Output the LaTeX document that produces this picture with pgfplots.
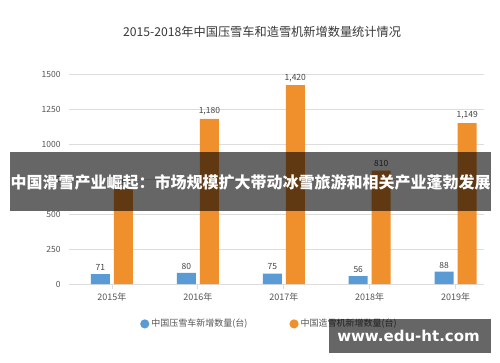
\documentclass[border=0pt]{standalone}
\usepackage{pgfplots}
\pgfplotsset{compat=1.18}
\usepackage{fontspec}
\setmainfont{Noto Sans CJK SC}
\newfontfamily\wmfont{DejaVu Sans}
\definecolor{cblue}{HTML}{5B9BD5}
\definecolor{corange}{HTML}{F0902D}
\definecolor{gridc}{HTML}{DDDDDD}
\definecolor{txt}{HTML}{555555}
\definecolor{lbl}{HTML}{444444}
\begin{document}
\begin{tikzpicture}[x=1pt,y=1pt]
\fill[white] (0,0) rectangle (500,362);
\node[text=black!78, font=\fontsize{12.2}{14}\selectfont] at (262,330) {2015-2018年中国压雪车和造雪机新增数量统计情况};
\begin{axis}[
  at={(69pt,78pt)}, anchor=south west,
  scale only axis, width=415pt, height=210pt,
  ybar=4pt, bar width=19pt,
  enlargelimits=false,
  xmin=-0.5, xmax=4.33, ymin=0, ymax=1500,
  xtick={0,1,2,3,4},
  xticklabels={2015年,2016年,2017年,2018年,2019年},
  ytick={0,250,500,750,1000,1250,1500},
  axis line style={draw=none},
  xtick pos=bottom, ytick pos=left,
  tick align=outside,
  major x tick style={draw=gridc, line width=0.8pt},
  major y tick style={draw=none},
  major tick length=5pt,
  ymajorgrids, grid style={draw=gridc, line width=0.8pt},
  /pgf/number format/assume math mode=true,
  yticklabel style={font=\fontsize{8.5}{10}\selectfont, text=txt, /pgf/number format/1000 sep={}},
  xticklabel style={font=\fontsize{9}{10}\selectfont, text=txt},
  nodes near coords,
  every node near coord/.append style={font=\fontsize{8.5}{10}\selectfont, text=lbl},
  legend columns=2,
  legend style={draw=none, fill=none, at={(0.483,-0.19)}, anchor=center,
    font=\fontsize{9}{10}\selectfont, text=txt,
    /tikz/every even column/.append style={column sep=40pt}},
  legend image code/.code={\fill[#1] (0pt,0pt) circle (4.6pt);},
]
\addplot[fill=cblue, draw=none] coordinates {(0,71) (1,80) (2,75) (3,56) (4,88)};
\addplot[fill=corange, draw=none] coordinates {(0,680) (1,1180) (2,1420) (3,810) (4,1149)};
\legend{中国压雪车新增数量(台), 中国造雪机新增数量(台)}
\end{axis}
\fill[black, opacity=0.6] (10,151) rectangle (491,210);
\node[white, font=\fontsize{16}{18}\selectfont\bfseries] at (250.5,180) {中国滑雪产业崛起：市场规模扩大带动冰雪旅游和相关产业蓬勃发展};
\fill[black, opacity=0.6] (329,9) rectangle (491,43);
\node[white, font=\wmfont\bfseries\fontsize{15}{17}\selectfont] at (408.5,26) {www.edu-ht.com};
\end{tikzpicture}
\end{document}
